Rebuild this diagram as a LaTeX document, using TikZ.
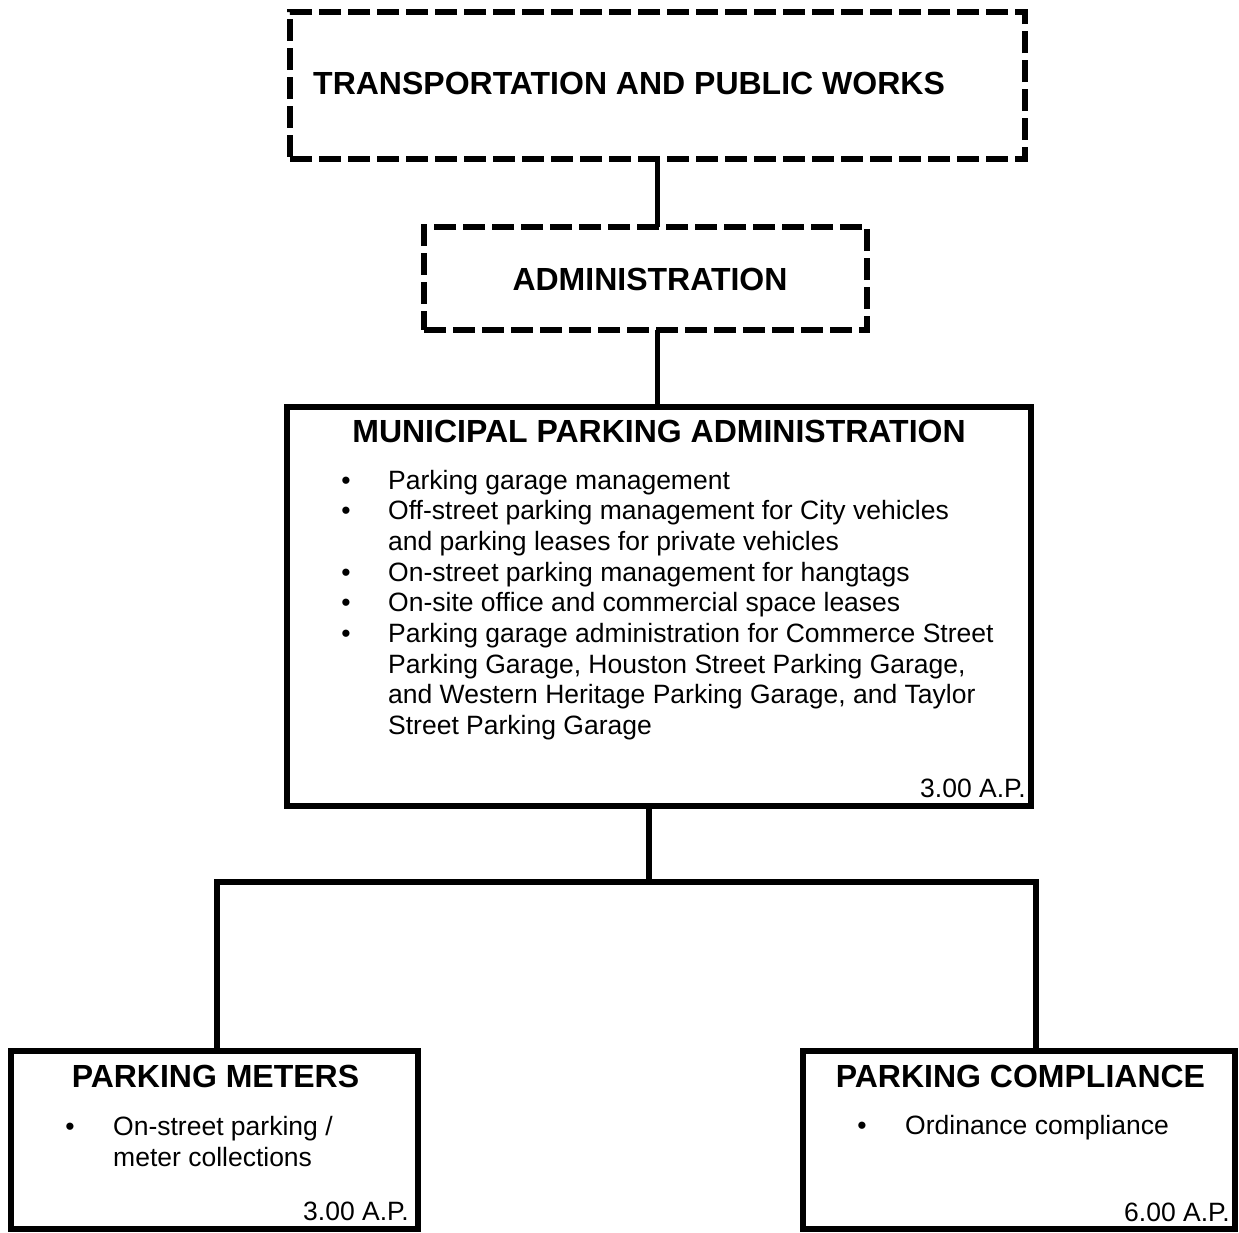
\documentclass[tikz,border=0pt]{standalone}
\usepackage{fontspec}
\setmainfont{Liberation Sans}
\usetikzlibrary{positioning}
\newcommand{\boxtitlefont}{\bfseries\fontsize{32}{36}\selectfont}
\newcommand{\boxtextfont}{\fontsize{26.5}{30.7}\selectfont}

\begin{document}
\begin{tikzpicture}[x=1pt,y=-1pt,
	unitbox/.style={draw,line width=5.5pt,inner sep=0pt,outer sep=0pt},
	dashbox/.style={unitbox,dash pattern=on 22pt off 7pt},
	link/.style={line width=5.5pt},
	boxtitle/.style={font=\boxtitlefont,inner sep=0pt,anchor=base},
	duty/.style={font=\boxtextfont,inner sep=0pt,anchor=base west},
	dot/.style={font=\boxtextfont,inner sep=0pt,anchor=base},
	fte/.style={font=\boxtextfont,inner sep=0pt,anchor=base east}]
	\useasboundingbox (0,0) rectangle (1239,1232);
	% boxes
	\node[dashbox,minimum width=735pt,minimum height=147pt] (tpw) at (657.5,85.5) {};
	\node[dashbox,minimum width=443pt,minimum height=103pt] (adm) at (645.5,278.5) {};
	\node[unitbox,minimum width=744pt,minimum height=399pt] (mpa) at (659,606.5) {};
	\node[unitbox,minimum width=407pt,minimum height=178pt] (meters) at (214.5,1140) {};
	\node[unitbox,minimum width=432pt,minimum height=178pt] (compl) at (1019,1140) {};
	% connectors
	\coordinate (split) at (649,882);
	\coordinate (splitl) at (217,882);
	\coordinate (splitr) at (1036,882);
	\draw[link] (tpw.south) -- (tpw.south |- adm.north);
	\draw[link] (tpw.south |- adm.south) -- (tpw.south |- mpa.north);
	\draw[link] (mpa.south -| split) -- (split);
	\draw[link] (meters.north -| splitl) -- (splitl) -- (splitr) -- (compl.north -| splitr);
	% titles
	\node[boxtitle,anchor=base west] (tpwname) at (313,94) {TRANSPORTATION AND PUBLIC WORKS};
	\node[boxtitle] (admname) at (650,290) {ADMINISTRATION};
	\node[boxtitle] (mpaname) at (659,442) {MUNICIPAL PARKING ADMINISTRATION};
	\node[boxtitle] (metersname) at (215.5,1087) {PARKING METERS};
	\node[boxtitle] (complname) at (1020.5,1087) {PARKING COMPLIANCE};
	% duties
	\foreach \txt [count=\i] in {Parking garage management,
		Off-street parking management for City vehicles,
		and parking leases for private vehicles,
		On-street parking management for hangtags,
		On-site office and commercial space leases,
		Parking garage administration for Commerce Street,
		{Parking Garage, Houston Street Parking Garage,},
		{and Western Heritage Parking Garage, and Taylor},
		Street Parking Garage}
		\node[duty] (mpaduty\i) at (388,489+30.7*\i-30.7) {\txt};
	\foreach \i in {1,2,4,5,6}
		\node[dot] (mpadot\i) at (346,489+30.7*\i-30.7) {\textbullet};
	\node[dot] (metersdot) at (70,1135) {\textbullet};
	\node[duty] (metersduty1) at (113,1135) {On-street parking /};
	\node[duty] (metersduty2) at (113,1166) {meter collections};
	\node[dot] (compldot) at (862,1134) {\textbullet};
	\node[duty] (complduty) at (905,1134) {Ordinance compliance};
	% positions
	\node[fte] (mpafte) at (1026,797) {3.00 A.P.};
	\node[fte] (metersfte) at (409,1220) {3.00 A.P.};
	\node[fte] (complfte) at (1230,1221) {6.00 A.P.};
\end{tikzpicture}
\end{document}
